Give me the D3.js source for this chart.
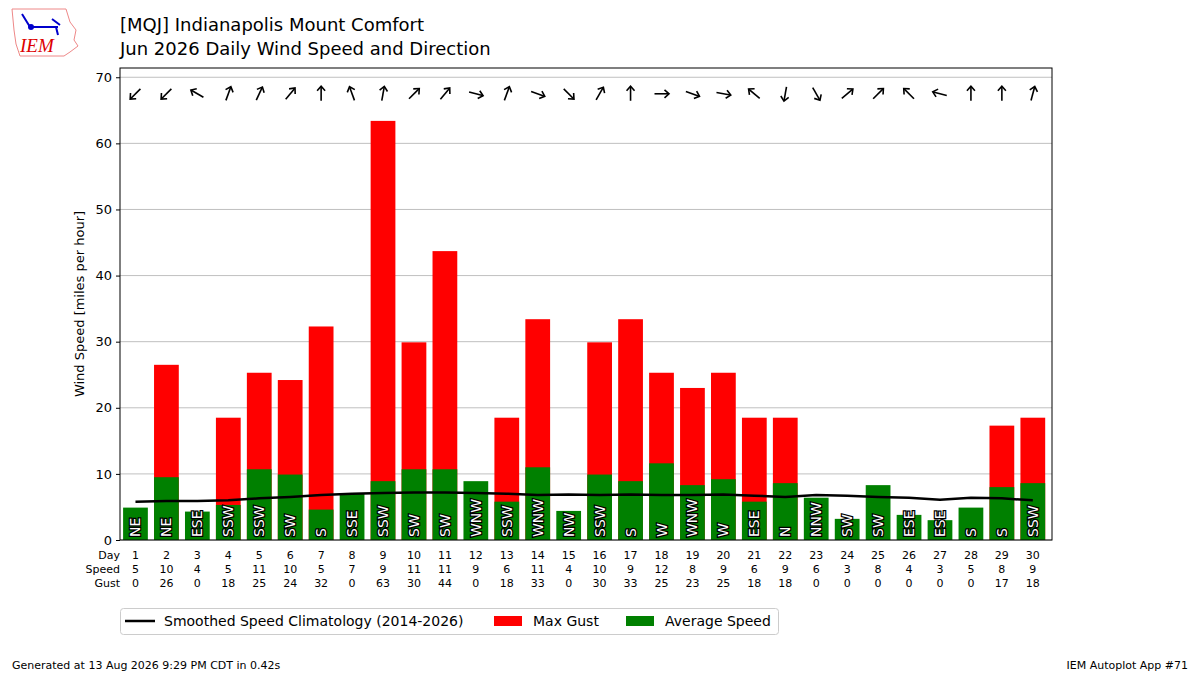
<!DOCTYPE html>
<html><head><meta charset="utf-8">
<script src="https://cdn.jsdelivr.net/npm/d3@7"></script>
<style>body{margin:0;background:#fff;font-family:"DejaVu Sans",sans-serif;}</style>
</head><body><svg id="c" width="1200" height="675"></svg>
<script>
const days = d3.range(1,31);
const avgSpeed = [4.9,9.5,4.3,5.3,10.7,9.9,4.6,7.1,8.9,10.7,10.7,8.9,5.8,11.0,4.4,9.9,8.9,11.6,8.3,9.2,5.8,8.6,6.4,3.2,8.3,3.8,3.0,4.9,8.0,8.6];
const maxGust = [0,26.5,0,18.5,25.3,24.2,32.3,0,63.4,29.9,43.7,0,18.5,33.4,0,29.9,33.4,25.3,23.0,25.3,18.5,18.5,0,0,0,0,0,0,17.3,18.5];
const speedLbl = [5,10,4,5,11,10,5,7,9,11,11,9,6,11,4,10,9,12,8,9,6,9,6,3,8,4,3,5,8,9];
const gustLbl = [0,26,0,18,25,24,32,0,63,30,44,0,18,33,0,30,33,25,23,25,18,18,0,0,0,0,0,0,17,18];
const dirLbl = ["NE","NE","ESE","SSW","SSW","SW","S","SSE","SSW","SW","SW","WNW","SSW","WNW","NW","SSW","S","W","WNW","W","ESE","N","NNW","SW","SW","ESE","ESE","S","S","SSW"];
const arrowFrom = [45,45,120,200,205,220,180,160,190,225,220,285,200,290,315,210,180,270,290,280,130,10,330,230,225,135,105,180,180,195];
const climo = [5.8,5.9,5.9,6.0,6.3,6.5,6.8,7.0,7.1,7.2,7.2,7.1,7.0,6.8,6.9,6.8,6.9,6.8,6.8,6.9,6.7,6.5,6.8,6.7,6.5,6.4,6.1,6.4,6.3,6.0];
const yTicks = [0,10,20,30,40,50,60,70];

const svg = d3.select("#c");
const L=120,R=1052,T=68,B=540;
const x = d3.scaleLinear().domain([0.5,30.62]).range([L,R]);
const y = d3.scaleLinear().domain([0,71.4]).range([B,T]);
const bw = (x(1)-x(0))*0.8;

// logo
const g0 = svg.append("g");
g0.append("path").attr("d","M12,9 L66,9 L70,22 L76,30 L74,40 L78,46 L70,52 L64,56 L20,56 L16,44 L14,30 Z").attr("fill","#fff").attr("stroke","#e88").attr("stroke-width",1);
g0.append("path").attr("d","M30,27 L58,27 M52,19 L60,25 M30,27 L22,14 M56,27 L58,35").attr("stroke","#00c").attr("stroke-width",2).attr("fill","none");
g0.append("circle").attr("cx",31).attr("cy",27).attr("r",3).attr("fill","#00c");
g0.append("text").attr("x",20).attr("y",52).attr("fill","#d00").attr("font-family","Liberation Serif").attr("font-style","italic").attr("font-size",19).text("IEM");

svg.append("text").attr("x",120).attr("y",31).attr("font-size",18).text("[MQJ] Indianapolis Mount Comfort");
svg.append("text").attr("x",120).attr("y",55).attr("font-size",18).text("Jun 2026 Daily Wind Speed and Direction");

// grid
svg.append("g").selectAll("line").data(yTicks).join("line")
 .attr("x1",L).attr("x2",R).attr("y1",d=>y(d)).attr("y2",d=>y(d)).attr("stroke","#b0b0b0").attr("stroke-width",0.8);

// bars
svg.append("g").selectAll("rect").data(days).join("rect")
 .attr("x",d=>x(d)-bw/2).attr("width",bw).attr("y",d=>y(maxGust[d-1])).attr("height",d=>B-y(maxGust[d-1])).attr("fill","#ff0000");
svg.append("g").selectAll("rect").data(days).join("rect")
 .attr("x",d=>x(d)-bw/2).attr("width",bw).attr("y",d=>y(avgSpeed[d-1])).attr("height",d=>B-y(avgSpeed[d-1])).attr("fill","#008000");

// climo line
svg.append("path").datum(days).attr("fill","none").attr("stroke","#000").attr("stroke-width",2.5)
 .attr("d",d3.line().x(d=>x(d)).y(d=>y(climo[d-1])));

// dir labels
svg.append("g").selectAll("text").data(days).join("text")
 .attr("transform",d=>`translate(${x(d)+5},${B-3}) rotate(-90)`)
 .attr("font-size",14).attr("fill","#fff").attr("stroke","#000").attr("stroke-width",2.5).attr("paint-order","stroke")
 .text(d=>dirLbl[d-1]);

// arrows
const ag = svg.append("g").selectAll("g").data(days).join("g")
 .attr("transform",d=>`translate(${x(d)},${y(67.5)}) rotate(${arrowFrom[d-1]+180})`);
ag.append("line").attr("x1",0).attr("y1",7).attr("x2",0).attr("y2",-7).attr("stroke","#000").attr("stroke-width",1.6);
ag.append("path").attr("d","M-4,-3 L0,-7.5 L4,-3").attr("fill","none").attr("stroke","#000").attr("stroke-width",1.6);

// axes frame
svg.append("rect").attr("x",L).attr("y",T).attr("width",R-L).attr("height",B-T).attr("fill","none").attr("stroke","#000").attr("stroke-width",1);
const ya = svg.append("g").attr("transform",`translate(${L},0)`).call(d3.axisLeft(y).tickValues(yTicks).tickSize(4).tickPadding(4));
ya.select(".domain").remove();
ya.selectAll("text").attr("font-size",13).attr("font-family","DejaVu Sans");
svg.append("text").attr("transform",`translate(84,${(T+B)/2}) rotate(-90)`).attr("text-anchor","middle").attr("font-size",13).text("Wind Speed [miles per hour]");

// table
const rows=[["Day",days],["Speed",speedLbl],["Gust",gustLbl]];
rows.forEach((r,i)=>{
  const yy=559+i*14;
  svg.append("text").attr("x",120).attr("y",yy).attr("text-anchor","end").attr("font-size",11).text(r[0]);
  svg.append("g").selectAll("text").data(days).join("text").attr("x",d=>x(d)).attr("y",yy).attr("text-anchor","middle").attr("font-size",11).text(d=>r[1][d-1]);
});

// legend
svg.append("rect").attr("x",120.5).attr("y",608.5).attr("width",658).attr("height",26).attr("rx",3).attr("fill","#fff").attr("stroke","#ccc");
svg.append("line").attr("x1",125).attr("x2",155).attr("y1",621).attr("y2",621).attr("stroke","#000").attr("stroke-width",2.5);
svg.append("text").attr("x",164).attr("y",626).attr("font-size",14).text("Smoothed Speed Climatology (2014-2026)");
svg.append("rect").attr("x",494).attr("y",616).attr("width",28).attr("height",10).attr("fill","#ff0000");
svg.append("text").attr("x",533).attr("y",626).attr("font-size",14).text("Max Gust");
svg.append("rect").attr("x",626).attr("y",616).attr("width",28).attr("height",10).attr("fill","#008000");
svg.append("text").attr("x",665).attr("y",626).attr("font-size",14).text("Average Speed");

svg.append("text").attr("x",12).attr("y",669).attr("font-size",11).text("Generated at 13 Aug 2026 9:29 PM CDT in 0.42s");
svg.append("text").attr("x",1188).attr("y",669).attr("text-anchor","end").attr("font-size",11).text("IEM Autoplot App #71");
</script></body></html>
